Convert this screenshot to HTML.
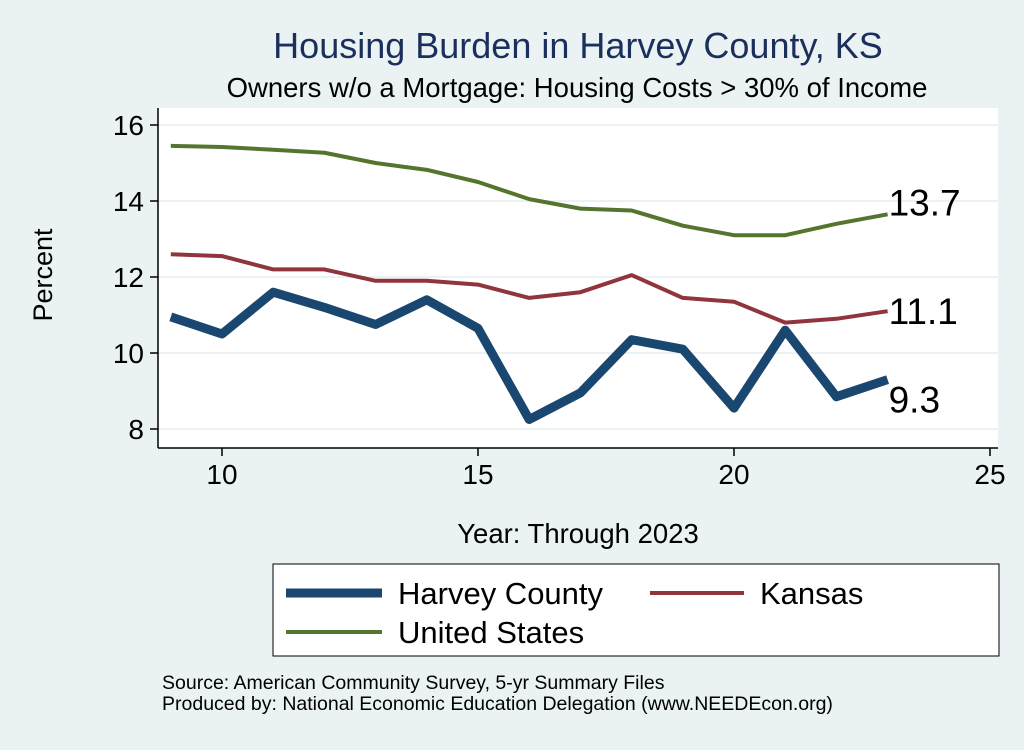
<!DOCTYPE html>
<html><head><meta charset="utf-8"><style>
body{margin:0;background:#eaf2f3;font-family:"Liberation Sans",sans-serif}
</style></head><body>
<svg width="1024" height="745" viewBox="0 0 1024 745" xmlns="http://www.w3.org/2000/svg" font-family="Liberation Sans, sans-serif">
<rect x="0" y="0" width="1024" height="745" fill="#eaf2f3"/>
<text x="578" y="58" font-size="36" fill="#1a2f5c" text-anchor="middle">Housing Burden in Harvey County, KS</text>
<text x="577" y="97" font-size="27.5" fill="#000" text-anchor="middle">Owners w/o a Mortgage: Housing Costs &gt; 30% of Income</text>
<rect x="158" y="108" width="840" height="340" fill="#fff"/>
<g id="grid"></g>
<g id="axes"></g>
<g id="series"></g>
<text x="52" y="275" font-size="27" text-anchor="middle" transform="rotate(-90 52 275)">Percent</text>
<text x="578" y="543" font-size="27.5" text-anchor="middle">Year: Through 2023</text>
<g>
<rect x="273" y="564" width="726" height="92" fill="#fff" stroke="#000" stroke-width="1"/>
<line x1="286" y1="593" x2="382" y2="593" stroke="#1a476f" stroke-width="9"/>
<text x="398" y="604" font-size="31">Harvey County</text>
<line x1="650" y1="593" x2="744" y2="593" stroke="#90353b" stroke-width="4"/>
<text x="760" y="604" font-size="31">Kansas</text>
<line x1="286" y1="632" x2="382" y2="632" stroke="#55752f" stroke-width="4"/>
<text x="398" y="643" font-size="31">United States</text>
</g>
<text x="162" y="689" font-size="19.5">Source: American Community Survey, 5-yr Summary Files</text>
<text x="162" y="710" font-size="19.5">Produced by: National Economic Education Delegation (www.NEEDEcon.org)</text>
</svg>
<script>
const years=[9,10,11,12,13,14,15,16,17,18,19,20,21,22,23];
const harvey=[10.95,10.5,11.6,11.2,10.75,11.4,10.65,8.25,8.95,10.35,10.1,8.55,10.6,8.85,9.3];
const kansas=[12.6,12.55,12.2,12.2,11.9,11.9,11.8,11.45,11.6,12.05,11.45,11.35,10.8,10.9,11.1];
const us=[15.45,15.42,15.35,15.27,15.0,14.82,14.5,14.05,13.8,13.75,13.35,13.1,13.1,13.4,13.65];
const xTicks=[10,15,20,25];
const yTicks=[8,10,12,14,16];
const NS="http://www.w3.org/2000/svg";
const X=v=>222+(v-10)*51.2, Y=v=>429-(v-8)*38;
function mk(t,a,p){const e=document.createElementNS(NS,t);for(const k in a)e.setAttribute(k,a[k]);p.appendChild(e);return e;}
const grid=document.getElementById('grid'),axes=document.getElementById('axes'),ser=document.getElementById('series');
yTicks.forEach(v=>{
 const g=mk('line',{x1:158,x2:998,y1:Y(v),y2:Y(v),stroke:'#eaf2f3','stroke-width':2},grid);
 
 
 mk('line',{x1:150,x2:158,y1:Y(v),y2:Y(v),stroke:'#000','stroke-width':1.5},axes);
 const t=mk('text',{x:144,y:Y(v)+10,'font-size':28,'text-anchor':'end'},axes);t.textContent=v;
 
 
});
xTicks.forEach(v=>{
 mk('line',{x1:X(v),x2:X(v),y1:448,y2:456,stroke:'#000','stroke-width':1.5},axes);
 const t=mk('text',{x:X(v),y:484,'font-size':28,'text-anchor':'middle'},axes);t.textContent=v;
 
 
});
mk('line',{x1:158,x2:158,y1:108,y2:448,stroke:'#000','stroke-width':1.5},axes);
mk('line',{x1:158,x2:998,y1:448,y2:448,stroke:'#000','stroke-width':1.5},axes);
function line(d,c,w,name,dy){
 const p=mk('polyline',{points:d.map((v,i)=>X(years[i])+','+Y(v)).join(' '),fill:'none',stroke:c,'stroke-width':w,'stroke-linejoin':'round'},ser);
 
 
 const last=d[d.length-1];
 const t=mk('text',{x:X(years[years.length-1])+1,y:Y(last)+dy,'font-size':37},ser);t.textContent=last.toFixed(1);
 
 
}
line(us,'#55752f',4,'line-united-states',1);
line(kansas,'#90353b',4,'line-kansas',13);
line(harvey,'#1a476f',9,'line-harvey-county',33);
</script>
</body></html>
